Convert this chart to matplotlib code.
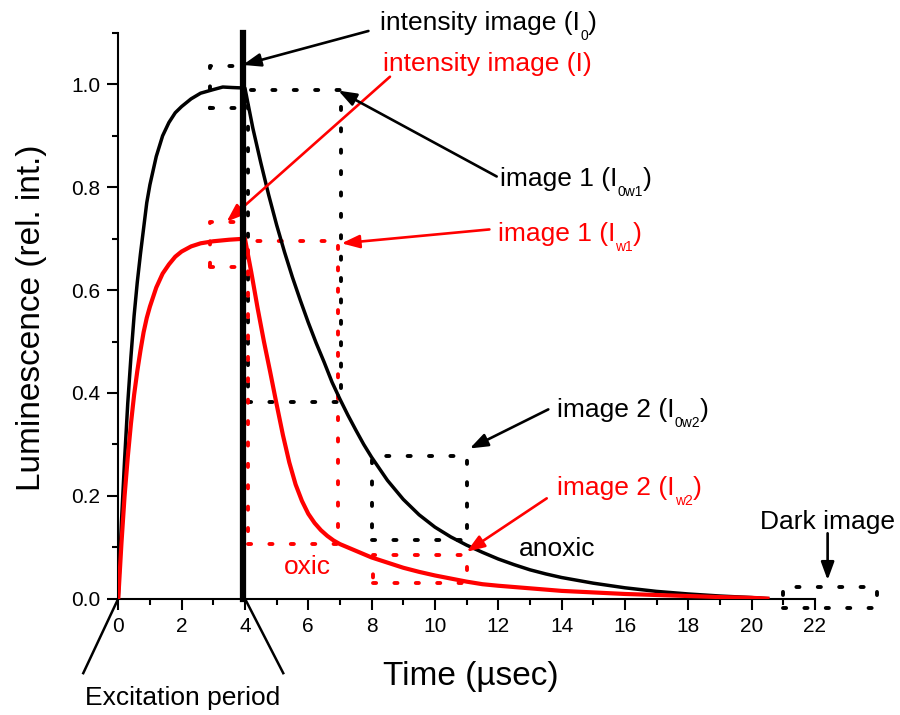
import matplotlib
matplotlib.use("Agg")
import matplotlib.pyplot as plt
from matplotlib.transforms import offset_copy

plt.rcParams['font.family'] = ['Liberation Sans', 'DejaVu Sans']

# anoxic (black) curve: excitation 0-4 usec, then decay
anoxic_t = [0, 0.1, 0.2, 0.3, 0.4, 0.5, 0.6, 0.7, 0.8, 0.9,
            1.0, 1.2, 1.4, 1.6, 1.8, 2.0, 2.3, 2.6, 3.0, 3.3,
            3.6, 4.0, 4.25, 4.5, 4.75, 5.0, 5.25, 5.5, 5.75, 6.0,
            6.25, 6.5, 6.75, 7.0, 7.25, 7.5, 7.75, 8.0, 8.5, 9.0,
            9.5, 10.0, 10.5, 11.0, 11.5, 12.0, 12.5, 13.0, 13.5, 14.0,
            15.0, 16.0, 17.0, 18.0, 19.0, 20.0, 20.5]
anoxic_v = [0, 0.148, 0.27, 0.38, 0.47, 0.55, 0.615, 0.67, 0.72, 0.77,
            0.805, 0.86, 0.90, 0.926, 0.945, 0.957, 0.972, 0.983, 0.99, 0.995,
            0.994, 0.993, 0.915, 0.848, 0.785, 0.727, 0.674, 0.625, 0.58, 0.537,
            0.497, 0.46, 0.421, 0.388, 0.357, 0.328, 0.30, 0.275, 0.23, 0.193,
            0.163, 0.139, 0.12, 0.104, 0.09, 0.077, 0.066, 0.056, 0.048, 0.041,
            0.03, 0.021, 0.014, 0.009, 0.005, 0.002, 0.0]

# oxic (red) curve
oxic_t = [0, 0.1, 0.2, 0.3, 0.4, 0.5, 0.6, 0.7, 0.8, 0.9,
          1.0, 1.2, 1.4, 1.6, 1.8, 2.0, 2.3, 2.6, 3.0, 3.5,
          4.0, 4.2, 4.4, 4.6, 4.8, 5.0, 5.2, 5.4, 5.6, 5.8,
          6.0, 6.2, 6.4, 6.6, 6.8, 7.0, 7.5, 8.0, 8.5, 9.0,
          9.5, 10.0, 10.5, 11.0, 11.5, 12.0, 13.0, 14.0, 15.0, 16.0,
          17.0, 18.0, 19.0, 20.0, 20.5]
oxic_v = [0, 0.107, 0.20, 0.275, 0.34, 0.396, 0.442, 0.482, 0.518, 0.546,
          0.568, 0.605, 0.632, 0.65, 0.665, 0.675, 0.685, 0.691, 0.695, 0.698,
          0.70, 0.635, 0.565, 0.50, 0.44, 0.378, 0.318, 0.265, 0.222, 0.19,
          0.165, 0.147, 0.133, 0.122, 0.113, 0.106, 0.093, 0.08, 0.07, 0.06,
          0.052, 0.045, 0.039, 0.033, 0.028, 0.025, 0.02, 0.015, 0.012, 0.009,
          0.007, 0.005, 0.003, 0.0015, 0.0]

pulse_end = 3.95

# gate windows (t0, t1, v0, v1)
box_I0 = (2.89, 3.95, 0.955, 1.035)
box_I = (2.89, 3.9, 0.645, 0.733)
box_I0w1 = (4.1, 7.02, 0.383, 0.989)
box_Iw1 = (4.1, 6.93, 0.106, 0.696)
box_I0w2 = (8.0, 11.0, 0.114, 0.278)
box_Iw2 = (8.05, 11.0, 0.031, 0.084)
box_dark = (21.0, 23.95, -0.018, 0.023)

fig = plt.figure(figsize=(9, 7.15), dpi=100)
ax = fig.add_axes([0.1314, 0.1628, 0.7741, 0.791])
renderer = fig.canvas.get_renderer()

dots = (0, (0.8, 4.7))


def box(b, color):
    t0, t1, v0, v1 = b
    ax.plot([t0, t1, t1, t0, t0], [v0, v0, v1, v1, v0], color=color, lw=2.8,
            linestyle=dots, dash_capstyle='round', clip_on=False)


box(box_I0, 'k')
box(box_I, 'r')
box(box_I0w1, 'k')
box(box_Iw1, 'r')
box(box_I0w2, 'k')
box(box_Iw2, 'r')
box(box_dark, 'k')

ax.plot(anoxic_t, anoxic_v, color='k', lw=2.5, zorder=3)
ax.plot(oxic_t, oxic_v, color='r', lw=3.0, zorder=3)
ax.plot([pulse_end, pulse_end], [0, 1.1], color='k', lw=4.5, zorder=4,
        clip_on=False)

ax.set_xlim(0, 22)
ax.set_ylim(0, 1.1)
ax.set_xticks(range(0, 23, 2))
ax.set_xticks(range(1, 23, 2), minor=True)
ax.set_yticks([0, 0.2, 0.4, 0.6, 0.8, 1.0])
ax.set_yticks([0.1, 0.3, 0.5, 0.7, 0.9, 1.1], minor=True)
ax.set_yticklabels(['0.0', '0.2', '0.4', '0.6', '0.8', '1.0'])
ax.spines['top'].set_visible(False)
ax.spines['right'].set_visible(False)
for s in ['left', 'bottom']:
    ax.spines[s].set_linewidth(1.5)
ax.tick_params(which='major', direction='out', length=8, width=1.5,
               labelsize=15, pad=5)
ax.tick_params(which='minor', direction='out', length=4.3, width=1.5)

ax.set_xlabel('Time (µsec)', fontsize=24, va='baseline')
ax.xaxis.set_label_coords(0.5065, -0.1528)
ax.set_ylabel('Luminescence (rel. int.)', fontsize=24, va='center')
ax.yaxis.set_label_coords(-0.124, 0.496)


def sub_label(x, y, main, sub, color):
    t = ax.text(x, y, main, color=color, fontsize=19, va='baseline')
    w = t.get_window_extent(renderer).width
    tr = offset_copy(ax.transData, fig=fig, x=w, y=-10, units='dots')
    s = ax.text(x, y, sub, color=color, fontsize=10, va='baseline', transform=tr)
    w2 = s.get_window_extent(renderer).width
    tr2 = offset_copy(ax.transData, fig=fig, x=w + w2, y=0, units='dots')
    ax.text(x, y, ')', color=color, fontsize=19, va='baseline', transform=tr2)


def arrow(start, tip, color):
    ax.annotate('', xy=tip, xytext=start, annotation_clip=False,
                arrowprops=dict(arrowstyle='-|>,head_length=0.6,head_width=0.22',
                                mutation_scale=18, color=color, lw=1.9,
                                shrinkA=0, shrinkB=0))


sub_label(8.27, 1.106, 'intensity image (I', '0', 'k')
ax.text(8.37, 1.027, 'intensity image (I)', color='r', fontsize=19, va='baseline')
sub_label(12.05, 0.803, 'image 1 (I', '0w1', 'k')
sub_label(11.98, 0.696, 'image 1 (I', 'w1', 'r')
sub_label(13.84, 0.354, 'image 2 (I', '0w2', 'k')
sub_label(13.86, 0.2016, 'image 2 (I', 'w2', 'r')
ax.text(20.28, 0.135, 'Dark image', color='k', fontsize=19, va='baseline')
ax.text(12.66, 0.083, 'anoxic', color='k', fontsize=19, va='baseline')
ax.text(5.23, 0.047, 'oxic', color='r', fontsize=19, va='baseline')

arrow((7.9, 1.104), (3.93, 1.038), 'k')
arrow((8.58, 1.015), (3.42, 0.733), 'r')
arrow((11.95, 0.821), (6.95, 0.988), 'k')
arrow((11.72, 0.718), (7.05, 0.691), 'r')
arrow((13.58, 0.368), (11.1, 0.292), 'k')
arrow((13.53, 0.195), (11.0, 0.091), 'r')
arrow((22.4, 0.127), (22.4, 0.036), 'k')

# excitation period bracket
ax.plot([0, -1.105], [0, -0.145], color='k', lw=1.8, clip_on=False)
ax.plot([4.0, 5.21], [0, -0.145], color='k', lw=1.8, clip_on=False)
ax.text(2.04, -0.207, 'Excitation period', color='k', fontsize=19,
        ha='center', va='baseline')

fig.savefig('out.png', dpi=100)
